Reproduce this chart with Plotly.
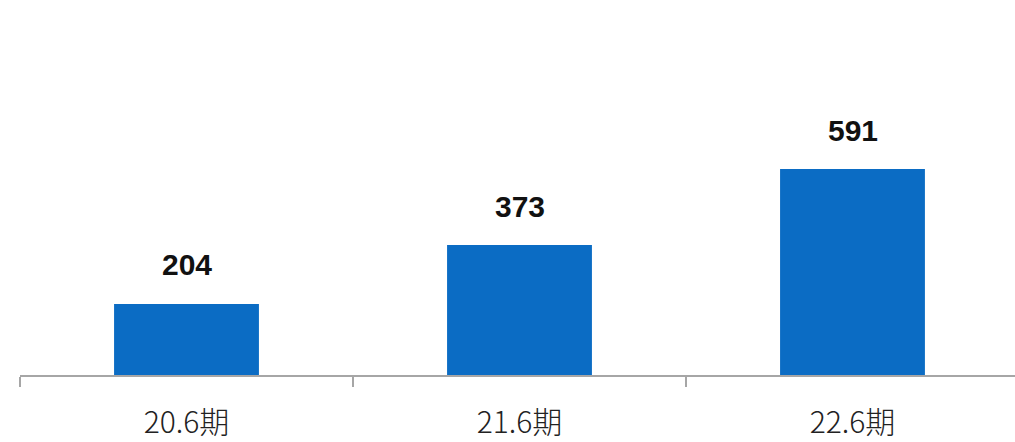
import plotly.graph_objects as go

categories = ["20.6期", "21.6期", "22.6期"]
values = [204, 373, 591]
labels = ["204", "373", "591"]

fig = go.Figure()
fig.add_trace(go.Bar(
    x=categories, y=values,
    marker=dict(color="#0B6CC4", line=dict(width=0)),
    width=0.435,
    hoverinfo="skip",
))

for c, v, t in zip(categories, values, labels):
    fig.add_annotation(
        x=c, y=v, text="<b>" + t + "</b>", showarrow=False, yanchor="middle", yshift=39,
        font=dict(family="Liberation Sans, Arial", size=30, color="#111111"),
    )

fig.update_layout(
    width=1015, height=442,
    margin=dict(l=20, r=0, t=0, b=67),
    paper_bgcolor="white", plot_bgcolor="rgba(0,0,0,0)",
    showlegend=False,
    bargap=0.565,
)
fig.update_xaxes(
    type="category", range=[-0.5, 2.488],
    showline=True, linecolor="#A6A6A6", linewidth=1.5,
    ticks="outside", ticklen=10, tickcolor="#A6A6A6", tickwidth=1.5,
    tickson="boundaries", ticklabelstandoff=20,
    tickfont=dict(family="Noto Sans CJK JP", size=30, color="#222222", weight=300),
    showgrid=False, zeroline=False,
)
fig.update_yaxes(range=[0, 1076], visible=False, showgrid=False, zeroline=False)

fig.write_html("out.html")
